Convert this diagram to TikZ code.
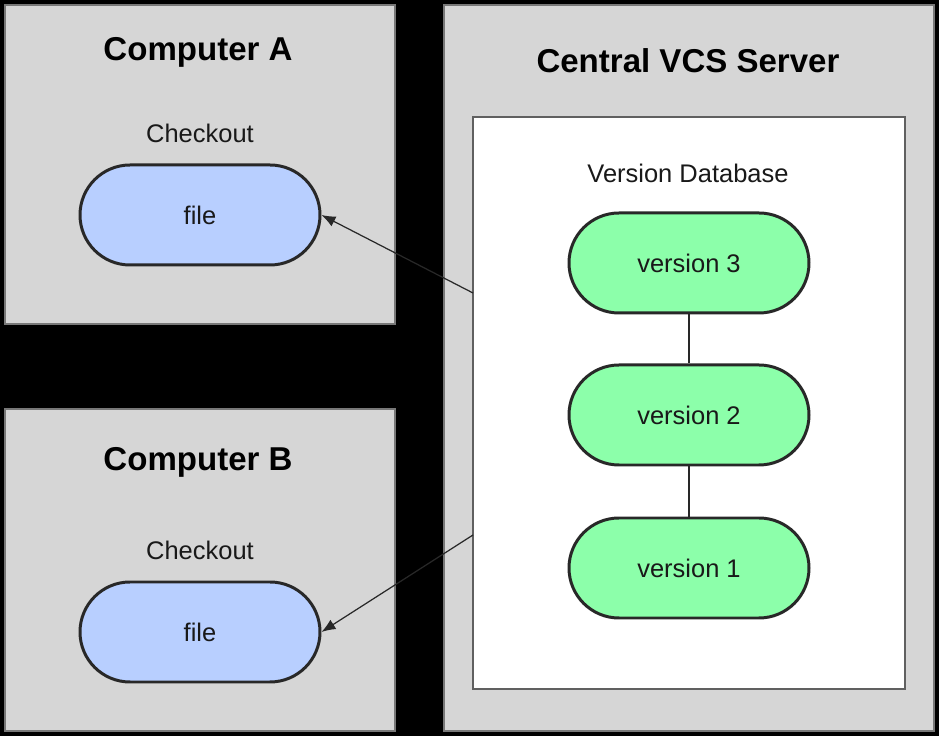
\documentclass[tikz,border=0pt]{standalone}
\usepackage{fontspec}
\setmainfont{Liberation Sans}
\usepackage{tikz}
\usetikzlibrary{arrows.meta}
\usepackage{xcolor}
\definecolor{boxgray}{RGB}{214,214,214}
\definecolor{edgegray}{RGB}{120,120,120}
\definecolor{filblue}{RGB}{184,207,255}
\definecolor{vergreen}{RGB}{140,255,170}
\definecolor{inkdark}{RGB}{40,40,40}
\tikzset{%
    pill/.style={%
        draw=inkdark, line width=1.7pt, rounded corners=1cm,
        minimum width=4.8cm, minimum height=2cm,
        font=\fontsize{14.5}{17}\selectfont, text=black!90
    },
    title/.style={font=\fontsize{18.8}{22}\selectfont\bfseries, text=black},
    caption/.style={font=\fontsize{14.5}{17}\selectfont, text=black!90}
}

\begin{document}
\begin{tikzpicture}
    \fill[black] (0,0) rectangle (18.78,14.72);
    \useasboundingbox (0,0) rectangle (18.78,14.72);
    \filldraw[fill=boxgray,draw=edgegray,line width=0.6pt] (0.1,8.24) rectangle (7.9,14.62);
    \filldraw[fill=boxgray,draw=edgegray,line width=0.6pt] (0.1,0.1) rectangle (7.9,6.54);
    \filldraw[fill=boxgray,draw=edgegray,line width=0.6pt] (8.88,0.1) rectangle (18.68,14.62);
    \filldraw[fill=white,draw=edgegray!80!black,line width=0.8pt] (9.46,0.94) rectangle (18.10,12.38);
    \node[title] (compA) at (3.96,13.68) {Computer A};
    \node[caption] (chkA) at (4.0,12.06) {Checkout};
    \node[title] (compB) at (3.96,5.48) {Computer B};
    \node[caption] (chkB) at (4.0,3.72) {Checkout};
    \node[title] (server) at (13.76,13.5) {Central VCS Server};
    \node[caption] (vdb) at (13.76,11.26) {Version Database};
    \node[pill,fill=filblue] (fileA) at (4.0,10.42) {file};
    \node[pill,fill=filblue] (fileB) at (4.0,2.08) {file};
    \node[pill,fill=vergreen] (ver3) at (13.78,9.46) {version 3};
    \node[pill,fill=vergreen] (ver2) at (13.78,6.42) {version 2};
    \node[pill,fill=vergreen] (ver1) at (13.78,3.36) {version 1};
    \draw[-,line width=0.9pt,color=inkdark] (ver3)--(ver2);
    \draw[-,line width=0.9pt,color=inkdark] (ver2)--(ver1);
    \coordinate (outA) at (9.46,8.86);
    \coordinate (outB) at (9.46,4.02);
    \draw[-{Latex[length=2.8mm,width=2.2mm]},line width=0.7pt,color=inkdark] (outA)--(fileA.east);
    \draw[-{Latex[length=2.8mm,width=2.2mm]},line width=0.7pt,color=inkdark] (outB)--(fileB.east);
\end{tikzpicture}
\end{document}
